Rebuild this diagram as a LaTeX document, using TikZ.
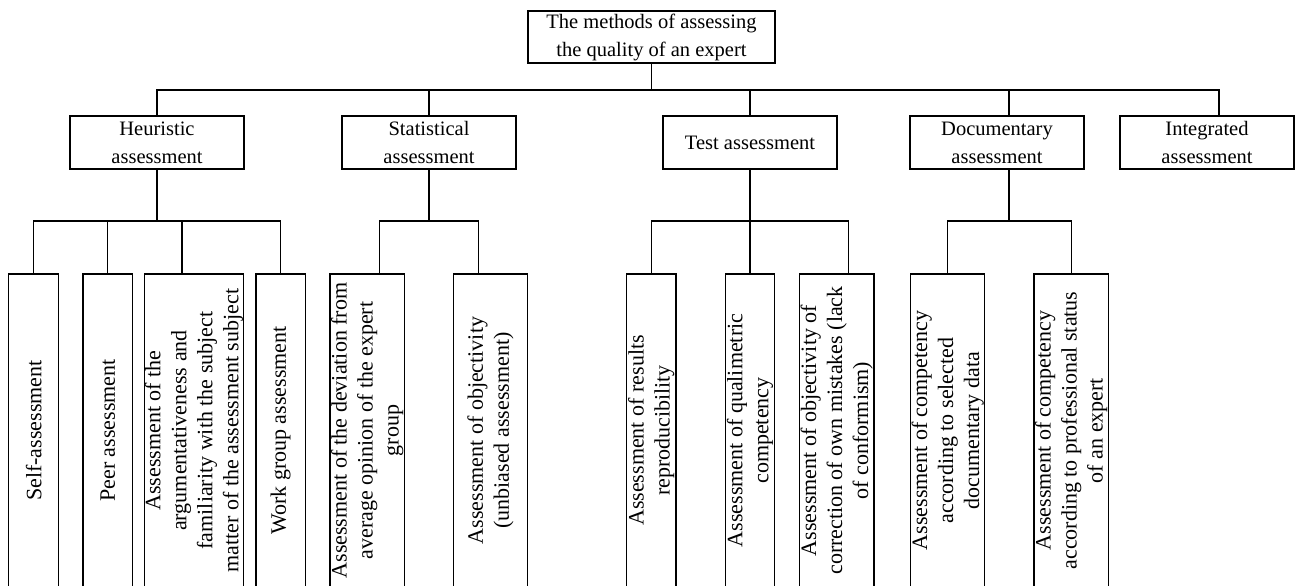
\documentclass[tikz,border=0pt]{standalone}
\usepackage{fontspec}
\setmainfont{Liberation Serif}
\usetikzlibrary{positioning}

\begin{document}
\begin{tikzpicture}[
    x=0.5pt, y=-0.5pt, line width=0.6pt,
    box/.style={rectangle, draw, inner sep=1pt, align=center, minimum width=87pt, minimum height=26.5pt, font=\fontsize{10.25}{14}\selectfont},
    leaf/.style={rectangle, draw, rotate=90, inner xsep=2pt, inner ysep=0pt, align=center, minimum width=156.5pt, font=\fontsize{11}{13}\selectfont}
]
    \useasboundingbox (0,0) rectangle (1297,585);
    \coordinate (bus) at (0,90);
    \coordinate (bar) at (0,221);

    \node[box, minimum width=123.5pt, minimum height=26pt] (root) at (651.5,37) {The methods of assessing\\the quality of an expert};

    \node[box] (heur) at (157,142.5) {Heuristic\\assessment};
    \node[box] (stat) at (429,142.5) {Statistical\\assessment};
    \node[box] (test) at (750,142.5) {Test assessment};
    \node[box] (doc) at (997,142.5) {Documentary\\assessment};
    \node[box] (integ) at (1207,142.5) {Integrated\\assessment};

    \node[leaf, minimum height=25pt] (self) at (33.7,430.5) {Self-assessment};
    \node[leaf, minimum height=24.7pt] (peer) at (107.7,430.5) {Peer assessment};
    \node[leaf, minimum height=49.7pt] (argu) at (194,430.5) {Assessment of the\\argumentativeness and\\familiarity with the subject\\matter of the assessment subject};
    \node[leaf, minimum height=24.7pt] (work) at (280.7,430.5) {Work group assessment};

    \node[leaf, minimum height=37.3pt] (dev) at (367.3,430.5) {Assessment of the deviation from\\average opinion of the expert\\group};
    \node[leaf, minimum height=37.2pt] (obj) at (490.5,430.5) {Assessment of objectivity\\(unbiased assessment)};

    \node[leaf, minimum height=24.7pt] (repro) at (651.3,430.5) {Assessment of results\\reproducibility};
    \node[leaf, minimum height=24.7pt] (quali) at (750,430.5) {Assessment of qualimetric\\competency};
    \node[leaf, minimum height=37.3pt] (conf) at (836.7,430.5) {Assessment of objectivity of\\correction of own mistakes (lack\\of conformism)};

    \node[leaf, minimum height=37pt] (sel) at (947.7,430.5) {Assessment of competency\\according to selected\\documentary data};
    \node[leaf, minimum height=37.2pt] (prof) at (1071.2,430.5) {Assessment of competency\\according to professional status\\of an expert};

    % stems that sit off the box centres
    \coordinate (doc-in) at ([xshift=6pt]doc.north);
    \coordinate (doc-out) at ([xshift=6pt]doc.south);
    \coordinate (integ-in) at ([xshift=6pt]integ.north);
    \coordinate (argu-in) at ([xshift=-6pt]argu.east);
    \coordinate (dev-in) at ([xshift=6pt]dev.east);
    \coordinate (obj-in) at ([xshift=-6pt]obj.east);
    \coordinate (conf-in) at ([xshift=6pt]conf.east);

    \draw (root.south) |- (heur.north |- bus) -- (heur.north);
    \draw (root.south) |- (stat.north |- bus) -- (stat.north);
    \draw (root.south) |- (test.north |- bus) -- (test.north);
    \draw (root.south) |- (doc-in |- bus) -- (doc-in);
    \draw (root.south) |- (integ-in |- bus) -- (integ-in);

    \draw (heur.south) |- (self.east |- bar) -- (self.east);
    \draw (heur.south) |- (peer.east |- bar) -- (peer.east);
    \draw (heur.south) |- (argu-in |- bar) -- (argu-in);
    \draw (heur.south) |- (work.east |- bar) -- (work.east);

    \draw (stat.south) |- (dev-in |- bar) -- (dev-in);
    \draw (stat.south) |- (obj-in |- bar) -- (obj-in);

    \draw (test.south) |- (repro.east |- bar) -- (repro.east);
    \draw (test.south) |- (quali.east |- bar) -- (quali.east);
    \draw (test.south) |- (conf-in |- bar) -- (conf-in);

    \draw (doc-out) |- (sel.east |- bar) -- (sel.east);
    \draw (doc-out) |- (prof.east |- bar) -- (prof.east);
\end{tikzpicture}
\end{document}
